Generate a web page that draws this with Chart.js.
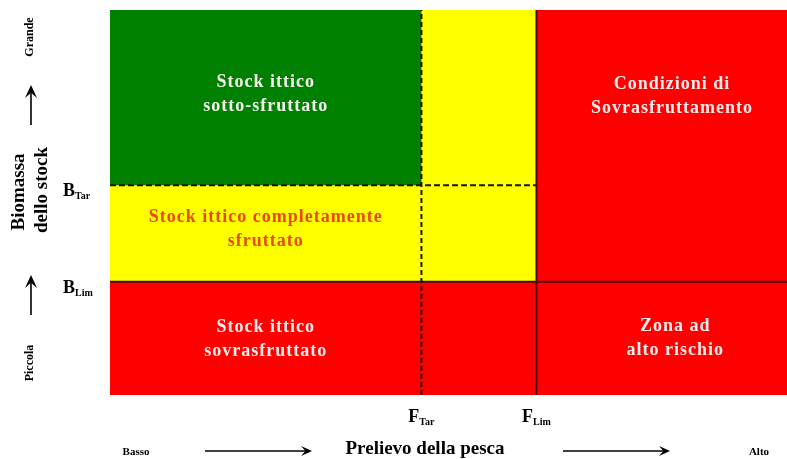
<!DOCTYPE html>
<html>
<head>
<meta charset="utf-8">
<script src="https://cdn.jsdelivr.net/npm/chart.js@4"></script>
<style>
  html, body { margin: 0; padding: 0; background: #ffffff; }
  canvas { display: block; }
</style>
</head>
<body>
<canvas id="c" width="787" height="459"></canvas>
<script>
// ---- data ----
const xRange = [0, 100];            // fishing pressure axis (relative units)
const yRange = [0, 100];            // stock biomass axis (relative units)
const fRefNames = ['Tar', 'Lim'];   // F reference points
const fRefValues = [46, 63];
const bRefNames = ['Tar', 'Lim'];   // B reference points
const bRefValues = [54.5, 29.4];

const FTar = fRefValues[0], FLim = fRefValues[1];
const BTar = bRefValues[0], BLim = bRefValues[1];

// zones (drawn bottom to top): red background, yellow, green
const zoneNames  = ['rosso', 'giallo', 'verde'];
const zoneX0 = [xRange[0], xRange[0], xRange[0]];
const zoneX1 = [xRange[1], FLim, FTar];
const zoneY0 = [yRange[0], BLim, BTar];
const zoneY1 = [yRange[1], yRange[1], yRange[1]];
const zoneColors = ['#ff0000', '#ffff00', '#008000'];

// zone labels
const zoneLabelLines = [
  ['Stock ittico', 'sotto-sfruttato'],
  ['Condizioni di', 'Sovrasfruttamento'],
  ['Stock ittico completamente', 'sfruttato'],
  ['Stock ittico', 'sovrasfruttato'],
  ['Zona ad', 'alto rischio']
];
const zoneLabelX = [23, 83, 23, 23, 83.5];
const zoneLabelY = [78, 77.7, 43, 14.5, 14.8];
const zoneLabelColors = ['#f2f2ea', '#fbeaea', '#ea4a00', '#fbeaea', '#fbeaea'];

// ---- build datasets ----
function rect(x0, x1, y0, y1) {
  return [{x: x0, y: y0}, {x: x1, y: y0}, {x: x1, y: y1}, {x: x0, y: y1}, {x: x0, y: y0}];
}
const datasets = [];
// reference lines (on top -> lowest order)
datasets.push({ label: 'FTar', data: [{x: FTar, y: yRange[0]}, {x: FTar, y: yRange[1]}],
  showLine: true, borderColor: '#1c1400', borderWidth: 2, borderDash: [5, 3], pointRadius: 0, fill: false, order: 0 });
datasets.push({ label: 'BTar', data: [{x: xRange[0], y: BTar}, {x: FLim, y: BTar}],
  showLine: true, borderColor: '#1c1400', borderWidth: 2, borderDash: [6, 3], pointRadius: 0, fill: false, order: 0 });
datasets.push({ label: 'FLim', data: [{x: FLim, y: yRange[0]}, {x: FLim, y: yRange[1]}],
  showLine: true, borderColor: '#4a0800', borderWidth: 2, pointRadius: 0, fill: false, order: 0 });
datasets.push({ label: 'BLim', data: [{x: xRange[0], y: BLim}, {x: xRange[1], y: BLim}],
  showLine: true, borderColor: '#4a0800', borderWidth: 2, pointRadius: 0, fill: false, order: 0 });
for (let i = 0; i < zoneNames.length; i++) {
  datasets.push({ label: zoneNames[i], data: rect(zoneX0[i], zoneX1[i], zoneY0[i], zoneY1[i]),
    showLine: true, borderWidth: 0, borderColor: 'rgba(0,0,0,0)', backgroundColor: zoneColors[i],
    pointRadius: 0, fill: 'shape', order: 10 - i, tension: 0 });
}

// ---- text / annotation plugin ----
function arrow(ctx, x1, y1, x2, y2, hl, hw) {
  const ang = Math.atan2(y2 - y1, x2 - x1);
  ctx.save();
  ctx.strokeStyle = '#000'; ctx.fillStyle = '#000'; ctx.lineWidth = 1.6;
  ctx.beginPath();
  ctx.moveTo(x1, y1);
  ctx.lineTo(x2 - Math.cos(ang) * hl * 0.6, y2 - Math.sin(ang) * hl * 0.6);
  ctx.stroke();
  ctx.translate(x2, y2); ctx.rotate(ang);
  ctx.beginPath();
  ctx.moveTo(0, 0); ctx.lineTo(-hl, -hw); ctx.lineTo(-hl * 0.6, 0); ctx.lineTo(-hl, hw); ctx.closePath();
  ctx.fill();
  ctx.restore();
}
function subLabel(ctx, main, sub, x, baseline, align) {
  ctx.save();
  ctx.fillStyle = '#000';
  ctx.textBaseline = 'alphabetic';
  ctx.font = 'bold 18px "Liberation Serif", serif';
  const wm = ctx.measureText(main).width;
  ctx.font = 'bold 10px "Liberation Serif", serif';
  const ws = ctx.measureText(sub).width;
  let start = align === 'center' ? x - (wm + ws) / 2 : x;
  ctx.font = 'bold 18px "Liberation Serif", serif';
  ctx.textAlign = 'left';
  ctx.fillText(main, start, baseline);
  ctx.font = 'bold 10px "Liberation Serif", serif';
  ctx.fillText(sub, start + wm, baseline + 3);
  ctx.restore();
}
const textPlugin = {
  id: 'texts',
  afterDraw(chart) {
    const ctx = chart.ctx;
    const xs = chart.scales.x, ys = chart.scales.y;
    // zone labels
    ctx.save();
    ctx.textAlign = 'center';
    ctx.textBaseline = 'middle';
    ctx.font = 'bold 18px "Liberation Serif", serif';
    if ('letterSpacing' in ctx) ctx.letterSpacing = '1px';
    for (let i = 0; i < zoneLabelLines.length; i++) {
      const px = xs.getPixelForValue(zoneLabelX[i]);
      const py = ys.getPixelForValue(zoneLabelY[i]);
      ctx.fillStyle = zoneLabelColors[i];
      const lines = zoneLabelLines[i];
      lines.forEach((t, k) => ctx.fillText(t, px, py + (k - (lines.length - 1) / 2) * 24));
    }
    if ('letterSpacing' in ctx) ctx.letterSpacing = '0px';
    ctx.restore();

    // F reference tick labels under the plot
    fRefNames.forEach((n, i) => {
      subLabel(ctx, 'F', n, xs.getPixelForValue(fRefValues[i]), chart.chartArea.bottom + 27, 'center');
    });
    // B reference tick labels left of plot
    bRefNames.forEach((n, i) => {
      subLabel(ctx, 'B', n, 63, ys.getPixelForValue(bRefValues[i]) + 11, 'left');
    });

    // x-axis title row
    ctx.save();
    ctx.fillStyle = '#000';
    ctx.textBaseline = 'middle';
    ctx.textAlign = 'center';
    ctx.font = 'bold 11px "Liberation Serif", serif';
    ctx.fillText('Basso', 136, 452);
    ctx.fillText('Alto', 759, 452);
    ctx.font = 'bold 19px "Liberation Serif", serif';
    ctx.fillText('Prelievo della pesca', 425, 449);
    ctx.restore();
    arrow(ctx, 205, 451, 312, 451, 11, 5);
    arrow(ctx, 563, 451, 670, 451, 11, 5);

    // y-axis title (rotated)
    ctx.save();
    ctx.fillStyle = '#000';
    ctx.textAlign = 'center';
    ctx.textBaseline = 'middle';
    const rot = (t, x, y, font) => {
      ctx.save(); ctx.translate(x, y); ctx.rotate(-Math.PI / 2);
      ctx.font = font; ctx.fillText(t, 0, 0); ctx.restore();
    };
    rot('Biomassa', 19, 192, 'bold 19px "Liberation Serif", serif');
    rot('dello stock', 42, 190, 'bold 19px "Liberation Serif", serif');
    rot('Grande', 30, 37, 'bold 12px "Liberation Serif", serif');
    rot('Piccola', 30, 363, 'bold 12px "Liberation Serif", serif');
    ctx.restore();
    arrow(ctx, 31, 125, 31, 85, 13, 6);
    arrow(ctx, 31, 315, 31, 275, 13, 6);
  }
};

new Chart(document.getElementById('c'), {
  type: 'scatter',
  data: { datasets },
  options: {
    responsive: false,
    animation: false,
    devicePixelRatio: 1,
    layout: { padding: { left: 110, top: 10, right: 0, bottom: 64 } },
    scales: {
      x: { type: 'linear', min: xRange[0], max: xRange[1], display: false },
      y: { type: 'linear', min: yRange[0], max: yRange[1], display: false }
    },
    plugins: { legend: { display: false }, tooltip: { enabled: false } },
    elements: { line: { tension: 0 } }
  },
  plugins: [textPlugin]
});
</script>
</body>
</html>
